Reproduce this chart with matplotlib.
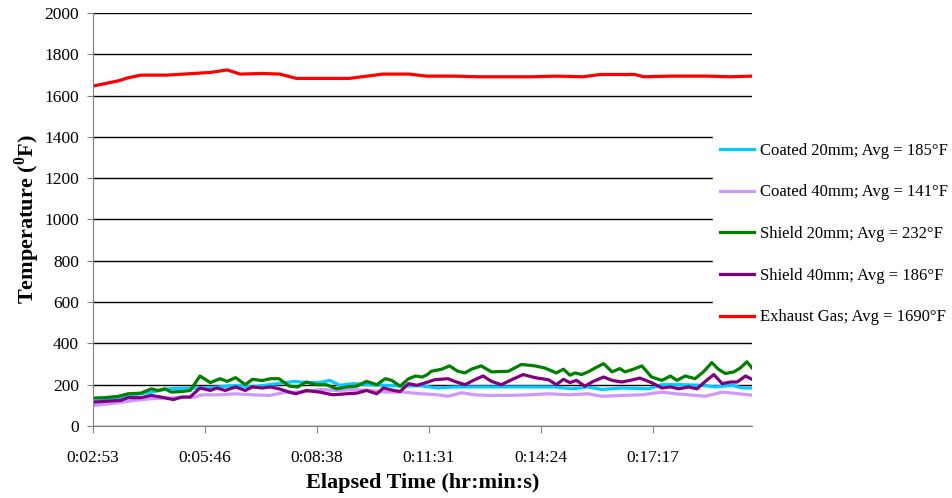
import matplotlib
matplotlib.use('Agg')
import matplotlib.pyplot as plt

# --- data (time in seconds, temperature in degF) ---
tick_labels = ['0:02:53', '0:05:46', '0:08:38', '0:11:31', '0:14:24', '0:17:17']

coated20_t = [172, 211, 237, 263, 289, 315, 338, 367, 393, 419, 445, 471, 484, 502, 523,
              538, 554, 575, 601, 626, 652, 678, 705, 731, 783, 834, 886, 912, 937, 958,
              989, 1030, 1051, 1082, 1113, 1133, 1159, 1175, 1193]
coated20_v = [119, 132, 151, 164, 180, 184, 184, 189, 197, 189, 200, 210, 216, 210, 210,
              221, 197, 205, 200, 197, 193, 195, 184, 189, 189, 189, 189, 180, 189, 177,
              184, 180, 200, 200, 197, 189, 197, 184, 184]

coated40_t = [172, 211, 237, 263, 289, 315, 330, 341, 367, 393, 419, 445, 471, 497, 523,
              549, 575, 601, 626, 652, 680, 705, 721, 742, 762, 783, 814, 845, 876, 907,
              937, 958, 989, 1020, 1051, 1072, 1092, 1118, 1144, 1170, 1193]
coated40_v = [99, 112, 124, 132, 135, 140, 140, 151, 151, 156, 151, 148, 164, 164, 177,
              172, 176, 172, 164, 164, 156, 151, 144, 161, 151, 148, 148, 151, 156, 151,
              156, 144, 148, 151, 164, 156, 151, 144, 164, 156, 148]

shield20_t = [172, 190, 211, 227, 247, 263, 273, 284, 294, 310, 323, 338, 354, 369, 380,
              393, 408, 419, 434, 447, 460, 476, 489, 502, 517, 533, 549, 564, 580, 595,
              611, 624, 634, 647, 660, 671, 681, 689, 695, 711, 723, 736, 747, 757, 772,
              788, 814, 834, 855, 870, 888, 899, 909, 917, 927, 937, 948, 961, 974, 986,
              994, 1007, 1020, 1035, 1051, 1064, 1074, 1087, 1102, 1115, 1128, 1138, 1149,
              1162, 1172, 1182, 1193]
shield20_v = [135, 137, 143, 156, 159, 180, 172, 180, 164, 167, 172, 242, 210, 229, 216,
              234, 200, 226, 220, 229, 229, 193, 189, 213, 200, 200, 180, 189, 193, 216,
              200, 229, 221, 193, 229, 242, 237, 249, 265, 275, 291, 265, 257, 275, 291,
              262, 265, 298, 291, 281, 257, 275, 246, 257, 249, 262, 281, 302, 262, 278,
              262, 275, 291, 237, 221, 242, 221, 242, 229, 262, 307, 275, 254, 262, 281,
              311, 270]

shield40_t = [172, 190, 216, 227, 247, 263, 278, 297, 310, 323, 338, 354, 364, 377, 393,
              408, 419, 434, 447, 460, 476, 486, 502, 523, 543, 564, 580, 595, 611, 621,
              637, 647, 660, 673, 690, 700, 721, 731, 747, 762, 775, 788, 803, 819, 837,
              855, 876, 888, 899, 909, 919, 932, 945, 961, 974, 989, 1002, 1017, 1035,
              1051, 1064, 1077, 1092, 1105, 1118, 1131, 1144, 1157, 1167, 1180, 1193]
shield40_v = [115, 119, 124, 137, 137, 148, 140, 128, 140, 140, 184, 172, 184, 172, 189,
              172, 189, 184, 189, 180, 164, 156, 172, 164, 151, 156, 159, 172, 156, 184,
              172, 167, 205, 197, 213, 224, 229, 216, 200, 224, 242, 216, 200, 224, 249,
              234, 224, 200, 226, 210, 221, 193, 216, 237, 221, 213, 221, 232, 210, 184,
              189, 180, 189, 180, 216, 249, 205, 213, 213, 242, 221]

exhaust_t = [173, 193, 213, 227, 247, 287, 313, 354, 380, 400, 434, 461, 487, 514, 541,
             568, 588, 621, 661, 688, 728, 768, 809, 849, 889, 929, 956, 1009, 1023, 1063,
             1123, 1156, 1190]
exhaust_v = [1646, 1659, 1672, 1686, 1699, 1699, 1704, 1712, 1724, 1704, 1707, 1704, 1683,
             1683, 1683, 1683, 1691, 1704, 1704, 1694, 1694, 1691, 1691, 1691, 1694, 1691,
             1702, 1702, 1691, 1694, 1694, 1691, 1694]

series = [
    (coated20_t, coated20_v, '#00CCFF', 'Coated 20mm; Avg = 185°F'),
    (coated40_t, coated40_v, '#CC99FF', 'Coated 40mm; Avg = 141°F'),
    (shield20_t, shield20_v, '#008000', 'Shield 20mm; Avg = 232°F'),
    (shield40_t, shield40_v, '#800080', 'Shield 40mm; Avg = 186°F'),
    (exhaust_t, exhaust_v, '#FF0000', 'Exhaust Gas; Avg = 1690°F'),
]


def to_seconds(label):
    h, m, s = (int(p) for p in label.split(':'))
    return h * 3600 + m * 60 + s


plt.rcParams['font.family'] = ['Liberation Serif', 'DejaVu Serif']
plt.rcParams['mathtext.fontset'] = 'custom'
plt.rcParams['mathtext.rm'] = 'Liberation Serif:bold'
plt.rcParams['mathtext.bf'] = 'Liberation Serif:bold'

fig = plt.figure(figsize=(9.53, 4.98), dpi=100)
ax = fig.add_axes([0.0976, 0.1446, 0.6915, 0.8294])

for t, v, color, label in series:
    ax.plot(t, v, color=color, lw=2.3, label=label)

ax.set_xlim(173, 1190)
ax.set_ylim(0, 2000)
ax.set_yticks(range(0, 2001, 200))
ax.set_xticks([to_seconds(l) for l in tick_labels])
ax.set_xticklabels(tick_labels)
ax.tick_params(labelsize=12.5, direction='out', color='#808080')
ax.tick_params(axis='x', length=5, pad=12)
ax.tick_params(axis='y', length=4, pad=6)
ax.yaxis.grid(True, color='black', lw=1)
ax.set_axisbelow(True)

for side in ('top', 'right'):
    ax.spines[side].set_visible(False)
for side in ('left', 'bottom'):
    ax.spines[side].set_color('#808080')

ax.set_xlabel('Elapsed Time (hr:min:s)', fontsize=16, fontweight='bold', labelpad=5)
ax.set_ylabel(r'Temperature ($^{0}$F)', fontsize=16, fontweight='bold', labelpad=2)

leg = fig.legend(loc='center left', bbox_to_anchor=(0.748, 0.53), fontsize=12,
                 frameon=True, fancybox=False, facecolor='white', edgecolor='white',
                 framealpha=1, labelspacing=1.54, handlelength=2.04, handletextpad=0.36,
                 borderaxespad=0)
for line in leg.get_lines():
    line.set_linewidth(2.3)

fig.savefig('out.png', dpi=100)
